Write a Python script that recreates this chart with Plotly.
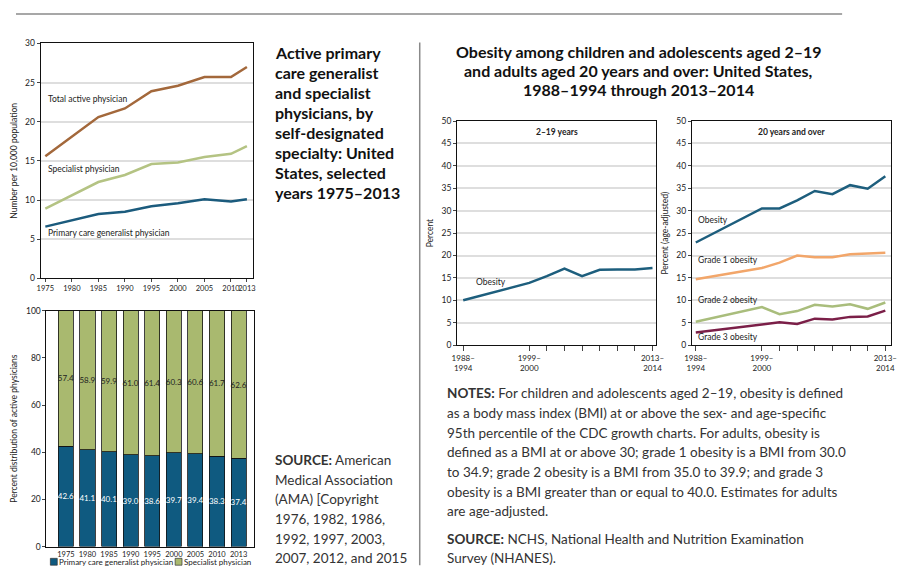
import plotly.graph_objects as go

# ---------------- data ----------------
years = [1975, 1980, 1985, 1990, 1995, 2000, 2005, 2010, 2013]
total_active = [15.6, 18.1, 20.6, 21.7, 23.9, 24.6, 25.7, 25.7, 27.0]
specialist = [8.9, 10.6, 12.3, 13.2, 14.6, 14.8, 15.5, 15.9, 16.9]
primary_care = [6.6, 7.4, 8.2, 8.5, 9.2, 9.6, 10.1, 9.8, 10.1]

bar_years = ["1975", "1980", "1985", "1990", "1995", "2000", "2005", "2010", "2013"]
pct_primary = [42.6, 41.1, 40.1, 39.0, 38.6, 39.7, 39.4, 38.3, 37.4]
pct_specialist = [57.4, 58.9, 59.9, 61.0, 61.4, 60.3, 60.6, 61.7, 62.6]
bar_series_names = ["Primary care generalist physician", "Specialist physician"]

periods = ["1988–1994", "1999–2000", "2001–2002", "2003–2004", "2005–2006",
           "2007–2008", "2009–2010", "2011–2012", "2013–2014"]
period_x = [1992, 1999.5, 2001.5, 2003.5, 2005.5, 2007.5, 2009.5, 2011.5, 2013.5]
period_ticktext = ["1988–<br>1994", "1999–<br>2000", "", "", "", "", "", "", "2013–<br>2014"]

child_obesity = [10.0, 13.9, 15.4, 17.1, 15.4, 16.8, 16.9, 16.9, 17.2]
adult_obesity = [22.9, 30.5, 30.5, 32.3, 34.4, 33.7, 35.7, 34.9, 37.7]
grade1 = [14.7, 17.2, 18.4, 20.0, 19.6, 19.6, 20.3, 20.5, 20.6]
grade2 = [5.2, 8.5, 6.9, 7.6, 9.0, 8.6, 9.1, 8.1, 9.5]
grade3 = [2.8, 4.7, 5.1, 4.7, 5.9, 5.7, 6.3, 6.4, 7.7]

title_left = ["Active primary", "care generalist", "and specialist", "physicians, by",
              "self-designated", "specialty: United", "States, selected", "years 1975–2013"]
title_right = ["Obesity among children and adolescents aged 2–19",
               "and adults aged 20 years and over: United States,",
               "1988–1994 through 2013–2014"]
source_left = ["<b>SOURCE:</b> American", "Medical Association", "(AMA) [Copyright",
               "1976, 1982, 1986,", "1992, 1997, 2003,", "2007, 2012, and 2015"]
notes_lines = [
    "<b>NOTES:</b> For children and adolescents aged 2–19, obesity is defined",
    "as a body mass index (BMI) at or above the sex- and age-specific",
    "95th percentile of the CDC growth charts. For adults, obesity is",
    "defined as a BMI at or above 30; grade 1 obesity is a BMI from 30.0",
    "to 34.9; grade 2 obesity is a BMI from 35.0 to 39.9; and grade 3",
    "obesity is a BMI greater than or equal to 40.0. Estimates for adults",
    "are age-adjusted.",
]
source_right = ["<b>SOURCE:</b> NCHS, National Health and Nutrition Examination",
                "Survey (NHANES)."]

# ---------------- style ----------------
FONT = "Lato"
OFF = 8  # page body margin
W, H = 912 - OFF, 582 - OFF
BROWN = "#a3683b"
OLIVE = "#b4c383"
TEAL = "#1b5b7d"
BAR_BLUE = "#0f5a80"
BAR_GREEN = "#a9b96f"
OB_BLUE = "#1d5e7d"
ORANGE = "#f2a66a"
GREEN2 = "#a9bd7c"
MAROON = "#7b1f48"
GRID = "#dedede"
TXT = "#222222"


def px_x(x):
    return (x - OFF) / W


def px_y(y):
    return 1 - (y - OFF) / H


fig = go.Figure()

# Panel 1: lines
for vals, col in [(total_active, BROWN), (specialist, OLIVE), (primary_care, TEAL)]:
    fig.add_trace(go.Scatter(x=years, y=vals, mode="lines", line=dict(color=col, width=2.5),
                             xaxis="x", yaxis="y", showlegend=False, hoverinfo="skip"))

# Panel 2: stacked bars
for vals, col, tcol, name in [(pct_primary, BAR_BLUE, "white", bar_series_names[0]),
                              (pct_specialist, BAR_GREEN, "#222", bar_series_names[1])]:
    fig.add_trace(go.Bar(x=bar_years, y=vals, name=name, showlegend=False,
                         marker=dict(color=col, line=dict(color="#111", width=0.8)),
                         text=[f"{v:.1f}" for v in vals], textposition="inside",
                         insidetextanchor="middle", textangle=0, constraintext="none",
                         textfont=dict(color=tcol, size=8, family=FONT),
                         xaxis="x2", yaxis="y2", hoverinfo="skip"))

# Panel 3
fig.add_trace(go.Scatter(x=period_x, y=child_obesity, mode="lines", line=dict(color=OB_BLUE, width=2.5),
                         xaxis="x3", yaxis="y3", showlegend=False, hoverinfo="skip"))
# Panel 4
for vals, col in [(adult_obesity, OB_BLUE), (grade1, ORANGE), (grade2, GREEN2), (grade3, MAROON)]:
    fig.add_trace(go.Scatter(x=period_x, y=vals, mode="lines", line=dict(color=col, width=2.5),
                             xaxis="x4", yaxis="y4", showlegend=False, hoverinfo="skip"))

tickfont = dict(family=FONT, size=8.5, color=TXT)
frame = dict(showline=True, linecolor="#111", linewidth=1, mirror=True, zeroline=False)

fig.update_layout(
    width=W, height=H, margin=dict(l=0, r=0, t=0, b=0),
    paper_bgcolor="white", plot_bgcolor="white",
    font=dict(family=FONT, color=TXT),
    barmode="stack", bargap=0.3,
    uniformtext=dict(minsize=8, mode="show"),
    showlegend=False,
    xaxis=dict(domain=[px_x(33), px_x(249)], anchor="y", range=[1974.1, 2014.1],
               tickvals=years, ticks="outside", ticklen=3, tickangle=0,
               tickfont=dict(family=FONT, size=7.5, color=TXT),
               showgrid=False, **frame),
    yaxis=dict(domain=[px_y(278), px_y(39)], anchor="x", range=[0, 30], dtick=5,
               ticks="outside", ticklen=3, tickfont=tickfont, showgrid=True,
               gridcolor=GRID, gridwidth=1.5,
               title=dict(text="Number per 10,000 population", font=dict(family=FONT, size=8.5),
                          standoff=6),
               **frame),
    xaxis2=dict(domain=[px_x(39), px_x(250)], anchor="y2", range=[-0.9, 8.7],
                ticks="", tickangle=0, tickfont=dict(family=FONT, size=7.5, color=TXT),
                showgrid=False, **frame),
    yaxis2=dict(domain=[px_y(551), px_y(311)], anchor="x2", range=[0, 100], dtick=20,
                ticks="outside", ticklen=3, tickfont=tickfont, showgrid=False,
                title=dict(text="Percent distribution of active physicians",
                           font=dict(family=FONT, size=8.5), standoff=6),
                **frame),
    xaxis3=dict(domain=[px_x(457), px_x(660)], anchor="y3", range=[1991.3, 2013.95],
                tickvals=period_x, ticktext=period_ticktext, ticks="outside", ticklen=5,
                tickangle=0, tickfont=dict(family=FONT, size=8, color=TXT), showgrid=False, **frame),
    yaxis3=dict(domain=[px_y(346), px_y(118)], anchor="x3", range=[0, 50], dtick=5,
                ticks="outside", ticklen=3, tickfont=tickfont, showgrid=True,
                gridcolor=GRID, gridwidth=1.5,
                title=dict(text="Percent", font=dict(family=FONT, size=8.5), standoff=6),
                **frame),
    xaxis4=dict(domain=[px_x(696), px_x(899)], anchor="y4", range=[1991.55, 2014.17],
                tickvals=period_x, ticktext=period_ticktext, ticks="outside", ticklen=5,
                tickangle=0, tickfont=dict(family=FONT, size=8, color=TXT), showgrid=False, **frame),
    yaxis4=dict(domain=[px_y(346), px_y(118)], anchor="x4", range=[0, 50], dtick=5,
                ticks="outside", ticklen=3, tickfont=tickfont, showgrid=True,
                gridcolor=GRID, gridwidth=1.5,
                title=dict(text="Percent (age-adjusted)", font=dict(family=FONT, size=8.5), standoff=6),
                **frame),
)

ann = []
lab = dict(family=FONT, size=8.5, color=TXT)
# panel 1 labels
for text, y in [("Total active physician", 22.9), ("Specialist physician", 13.9),
                ("Primary care generalist physician", 5.8)]:
    ann.append(dict(x=1975.2, y=y, xref="x", yref="y", text=text, showarrow=False,
                    xanchor="left", yanchor="middle", font=lab))
# panel 3 / 4 labels
ann.append(dict(x=1993.2, y=14.0, xref="x3", yref="y3", text="Obesity", showarrow=False,
                xanchor="left", yanchor="middle", font=lab))
for text, y in [("Obesity", 28.0), ("Grade 1 obesity", 18.9), ("Grade 2 obesity", 10.1),
                ("Grade 3 obesity", 1.7)]:
    ann.append(dict(x=1992.0, y=y, xref="x4", yref="y4", text=text, showarrow=False,
                    xanchor="left", yanchor="middle", font=lab))
ann.append(dict(x=0.5, y=47.6, xref="x3 domain", yref="y3", text="<b>2–19 years</b>",
                showarrow=False, font=dict(family=FONT, size=8.5, color=TXT)))
ann.append(dict(x=0.5, y=47.6, xref="x4 domain", yref="y4", text="<b>20 years and over</b>",
                showarrow=False, font=dict(family=FONT, size=8.5, color=TXT)))

# manual legend for the bar chart
legend_items = [(bar_series_names[0], BAR_BLUE, 43), (bar_series_names[1], BAR_GREEN, 170)]
for name, col, x0 in legend_items:
    fig.add_shape(type="rect", xref="paper", yref="paper", x0=px_x(x0), x1=px_x(x0 + 7),
                  y0=px_y(570), y1=px_y(563), fillcolor=col, line=dict(color="#333", width=0.7))
    ann.append(dict(x=px_x(x0 + 7), y=px_y(566.5), xref="paper", yref="paper", text=name,
                    showarrow=False, xanchor="left", yanchor="middle",
                    font=dict(family=FONT, size=8, color=TXT)))

# titles
for i, line in enumerate(title_left):
    ann.append(dict(x=px_x(270), y=px_y(48 + 20.4 * i), xref="paper", yref="paper",
                    text="<b>" + line + "</b>", showarrow=False, xanchor="left",
                    yanchor="middle", font=dict(family=FONT, size=16, color="#111")))
for i, line in enumerate(title_right):
    ann.append(dict(x=px_x(642), y=px_y(47 + 19.5 * i), xref="paper", yref="paper",
                    text="<b>" + line + "</b>", showarrow=False, xanchor="center",
                    yanchor="middle", font=dict(family=FONT, size=16, color="#111")))
# source left
for i, line in enumerate(source_left):
    ann.append(dict(x=px_x(270), y=px_y(463 + 20 * i), xref="paper", yref="paper", text=line,
                    showarrow=False, xanchor="left", yanchor="middle", align="left",
                    font=dict(family=FONT, size=13.5, color="#333")))
for i, line in enumerate(notes_lines):
    ann.append(dict(x=px_x(445), y=px_y(395 + 20 * i), xref="paper", yref="paper", text=line,
                    showarrow=False, xanchor="left", yanchor="middle", align="left",
                    font=dict(family=FONT, size=13.5, color="#333")))
for i, line in enumerate(source_right):
    ann.append(dict(x=px_x(445), y=px_y(543 + 20 * i), xref="paper", yref="paper", text=line,
                    showarrow=False, xanchor="left", yanchor="middle", align="left",
                    font=dict(family=FONT, size=13.5, color="#333")))
fig.update_layout(annotations=ann)

# separator lines
fig.add_shape(type="line", xref="paper", yref="paper", x0=0, x1=px_x(849), y0=px_y(9), y1=px_y(9),
              line=dict(color="#8a8a8a", width=1.5))
fig.add_shape(type="line", xref="paper", yref="paper", x0=px_x(419), x1=px_x(419), y0=px_y(38),
              y1=px_y(570), line=dict(color="#8a8a8a", width=1.5))

fig.write_html("out.html")
